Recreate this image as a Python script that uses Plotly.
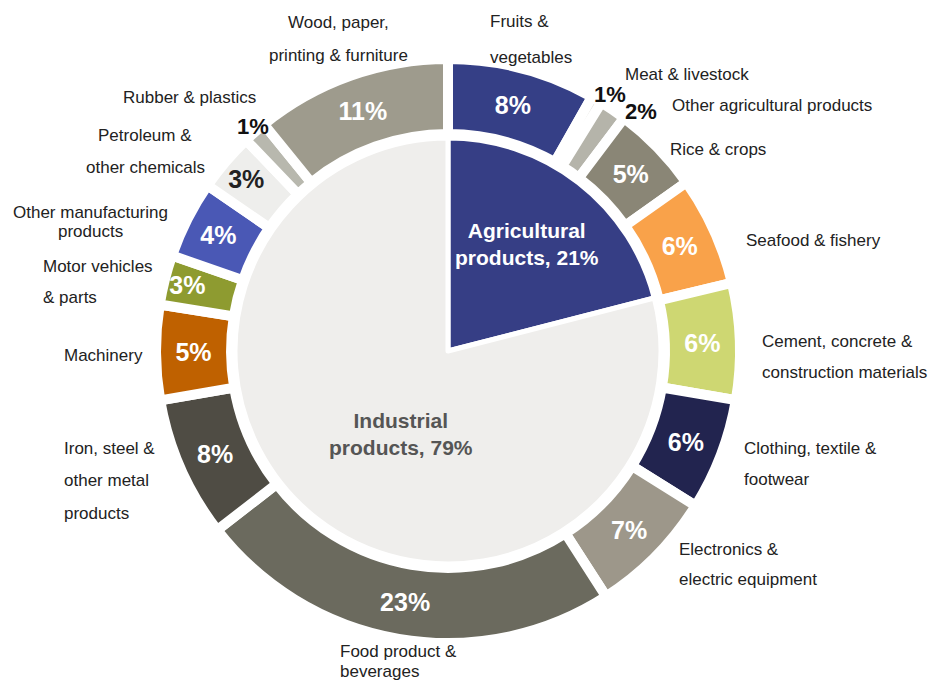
import plotly.graph_objects as go

# ---------------- data ----------------
inner_labels = ["Agricultural products", "Industrial products"]
inner_values = [21, 79]

outer_labels = [
    "Fruits & vegetables", "Meat & livestock", "Other agricultural products",
    "Rice & crops", "Seafood & fishery", "Cement, concrete & construction materials",
    "Clothing, textile & footwear", "Electronics & electric equipment",
    "Food product & beverages", "Iron, steel & other metal products", "Machinery",
    "Motor vehicles & parts", "Other manufacturing products",
    "Petroleum & other chemicals", "Rubber & plastics",
    "Wood, paper, printing & furniture",
]
# shares (percent)
outer_values = [8.2, 0.6, 1.5, 4.9, 6.05, 6.44, 6.2, 7.0, 23.6, 7.8, 5.25, 2.75,
                4.3, 3.25, 1.3, 10.85]
# rounded percentages printed on the chart
outer_pct = ["8%", "1%", "2%", "5%", "6%", "6%", "6%", "7%", "23%", "8%", "5%",
             "3%", "4%", "3%", "1%", "11%"]

# ---------------- styles ----------------
W, H = 932, 682
CX, CY = 448, 351
FONT = "Liberation Sans, Arial, sans-serif"

inner_colors = ["#363E85", "#EFEEEC"]
outer_colors = ["#353F86", "#E6E5E0", "#B5B4AA", "#8A8676", "#F9A24A", "#CED772",
                "#22244F", "#9D978A", "#6B6A5E", "#4F4C44", "#BF6100", "#8E9B30",
                "#4A58B5", "#EEEEEC", "#B8B8AE", "#9E9B8D"]
outside_pct = {"Meat & livestock", "Other agricultural products", "Rubber & plastics"}
dark_text = {"Petroleum & other chemicals"}

R_OUT, HOLE = 292, 0.743
R_IN = 213


def dom(r):
    return dict(x=[(CX - r) / W, (CX + r) / W],
                y=[(H - CY - r) / H, (H - CY + r) / H])


inside_text = ["" if lab in outside_pct else "<b>" + p + "</b>"
               for lab, p in zip(outer_labels, outer_pct)]
text_colors = ["#222222" if lab in dark_text else "white" for lab in outer_labels]

fig = go.Figure()
fig.add_trace(go.Pie(
    labels=inner_labels, values=inner_values, sort=False, direction="clockwise",
    rotation=0, domain=dom(R_IN), textinfo="none", hoverinfo="label+percent",
    marker=dict(colors=inner_colors, line=dict(color="white", width=5)),
    showlegend=False,
))
fig.add_trace(go.Pie(
    labels=outer_labels, values=outer_values, sort=False, direction="clockwise",
    rotation=0, domain=dom(R_OUT), hole=HOLE, text=inside_text,
    textinfo="text", textposition="inside", insidetextorientation="horizontal",
    insidetextfont=dict(family=FONT, size=25, color=text_colors),
    hoverinfo="label+percent",
    marker=dict(colors=outer_colors, line=dict(color="white", width=10)),
    showlegend=False,
))

# ---------------- annotations ----------------
def px(x, y):
    return x / W, 1 - y / H


annots = []
# centre labels
for txt, x, y, col in [
    ("<b>Agricultural<br>products, 21%</b>", 527, 244, "white"),
    ("<b>Industrial<br>products, 79%</b>", 401, 434, "#555555"),
]:
    ax, ay = px(x, y)
    annots.append(dict(text=txt, x=ax, y=ay, xref="paper", yref="paper",
                       showarrow=False, font=dict(family=FONT, size=21, color=col),
                       xanchor="center", yanchor="middle"))

# outside percentages for thin slices
pct_pos = {"Meat & livestock": (610, 95), "Other agricultural products": (641, 112),
           "Rubber & plastics": (253, 126)}
for lab, p in zip(outer_labels, outer_pct):
    if lab in pct_pos:
        ax, ay = px(*pct_pos[lab])
        annots.append(dict(text="<b>" + p + "</b>", x=ax, y=ay, xref="paper",
                           yref="paper", showarrow=False,
                           font=dict(family=FONT, size=22, color="#111111"),
                           xanchor="center", yanchor="middle"))

# category labels: (lines, anchor x, first-line y, line step, xanchor)
label_layout = {
    "Fruits & vegetables": (["Fruits &", "vegetables"], 488, 22, 35, "left"),
    "Meat & livestock": (["Meat & livestock"], 623, 74, 0, "left"),
    "Other agricultural products": (["Other agricultural products"], 670, 106, 0, "left"),
    "Rice & crops": (["Rice & crops"], 668, 149, 0, "left"),
    "Seafood & fishery": (["Seafood & fishery"], 744, 240, 0, "left"),
    "Cement, concrete & construction materials": (["Cement, concrete &", "construction materials"], 760, 341, 31, "left"),
    "Clothing, textile & footwear": (["Clothing, textile &", "footwear"], 742, 448, 31, "left"),
    "Electronics & electric equipment": (["Electronics &", "electric equipment"], 677, 549, 30, "left"),
    "Food product & beverages": (["Food product &", "beverages"], 338, 651, 20, "left"),
    "Iron, steel & other metal products": (["Iron, steel &", "other metal", "products"], 62, 448, 32.5, "left"),
    "Machinery": (["Machinery"], 62, 355, 0, "left"),
    "Motor vehicles & parts": (["Motor vehicles", "& parts"], 41, 266, 31, "left"),
    "Other manufacturing products": (["Other manufacturing", "products"], 90, 213, 19, "center"),
    "Petroleum & other chemicals": (["Petroleum &", "other chemicals"], 145, 135, 32, "center"),
    "Rubber & plastics": (["Rubber & plastics"], 189, 98, 0, "center"),
    "Wood, paper, printing & furniture": (["Wood, paper,", "printing & furniture"], 338, 23, 32, "center"),
}
for lab in outer_labels:
    lines, x0, y0, step, xa = label_layout[lab]
    for i, line in enumerate(lines):
        ax, ay = px(x0, y0 + i * step)
        annots.append(dict(text=line, x=ax, y=ay, xref="paper", yref="paper",
                           showarrow=False, font=dict(family=FONT, size=17, color="#222222"),
                           xanchor=xa, yanchor="middle"))

fig.update_layout(
    width=W, height=H, margin=dict(l=0, r=0, t=0, b=0),
    paper_bgcolor="white", plot_bgcolor="white",
    annotations=annots, showlegend=False,
    font=dict(family=FONT),
)
fig.write_html("out.html", config={"displayModeBar": False},
               post_script="document.body.style.margin='0';")
